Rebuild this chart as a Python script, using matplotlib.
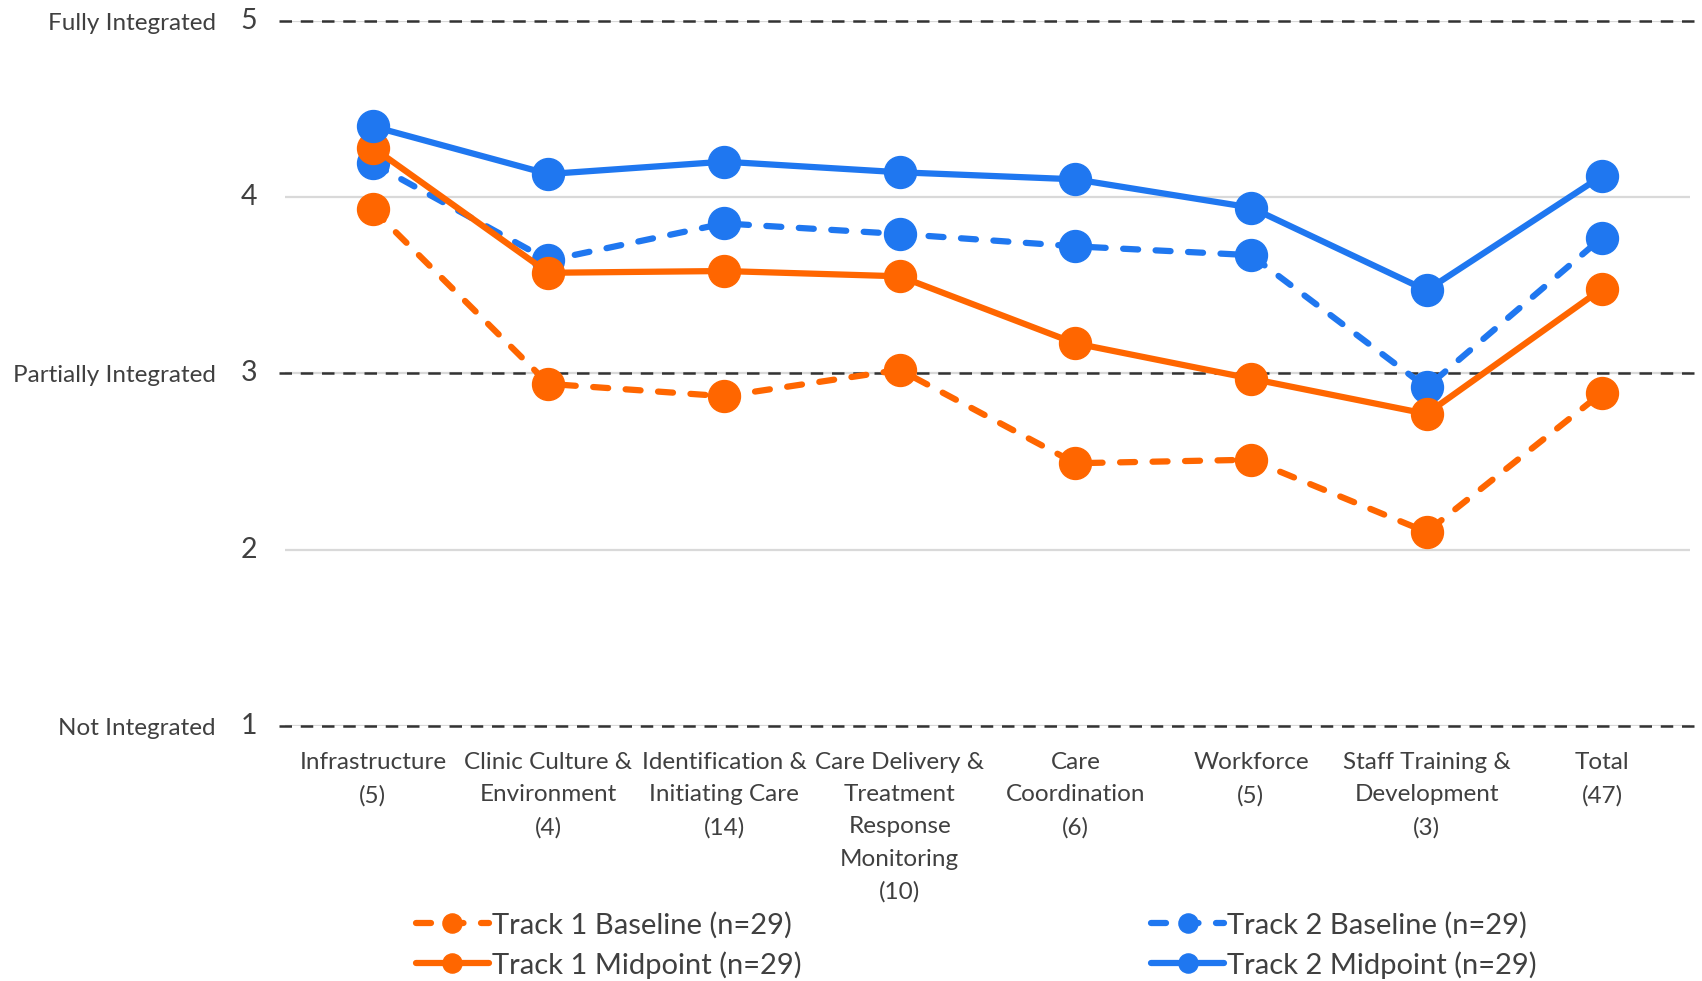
import matplotlib
matplotlib.use('Agg')
import matplotlib.pyplot as plt

plt.rcParams['font.family'] = ['Lato', 'DejaVu Sans']

categories = ['Infrastructure\n(5)', 'Clinic Culture &\nEnvironment\n(4)',
              'Identification &\nInitiating Care\n(14)',
              'Care Delivery &\nTreatment\nResponse\nMonitoring\n(10)',
              'Care\nCoordination\n(6)', 'Workforce\n(5)',
              'Staff Training &\nDevelopment\n(3)', 'Total\n(47)']

t1_base = [3.93, 2.94, 2.87, 3.02, 2.49, 2.51, 2.10, 2.89]
t2_base = [4.19, 3.64, 3.85, 3.79, 3.72, 3.67, 2.92, 3.77]
t1_mid = [4.28, 3.57, 3.58, 3.55, 3.17, 2.97, 2.77, 3.48]
t2_mid = [4.40, 4.13, 4.20, 4.14, 4.10, 3.94, 3.47, 4.12]

y_ticks = [1, 2, 3, 4, 5]
level_labels = {1: 'Not Integrated', 3: 'Partially Integrated', 5: 'Fully Integrated'}

orange = '#FF6600'
blue = '#1F77F0'
text_col = '#404040'

fig = plt.figure(figsize=(17.02, 9.81), dpi=100)
ax = fig.add_axes([285/1702, 1 - 726/981, 1405/1702, 705.4/981])

x = list(range(len(categories)))
ax.set_xlim(-0.5, len(categories) - 0.5)
ax.set_ylim(1, 5)

# grey gridlines
for y in y_ticks:
    ax.axhline(y, color='#d9d9d9', lw=1.6, zorder=0)
# black dashed reference lines
for y in level_labels:
    ax.axhline(y, xmin=-0.004, xmax=1.01, color='#333333', lw=1.8,
               ls=(0, (5, 3.5)), zorder=1, clip_on=False)

dash = (0, (2.4, 2.8))
series = [
    (t1_base, orange, dash, 'Track 1 Baseline (n=29)'),
    (t2_base, blue, dash, 'Track 2 Baseline (n=29)'),
    (t1_mid, orange, '-', 'Track 1 Midpoint (n=29)'),
    (t2_mid, blue, '-', 'Track 2 Midpoint (n=29)'),
]
handles = {}
for vals, col, ls, lab in series:
    h, = ax.plot(x, vals, color=col, lw=4.5, ls=ls, marker='o', markersize=23,
                 dash_capstyle='round', solid_capstyle='round', label=lab,
                 clip_on=False, zorder=3)
    handles[lab] = h

ax.set_xticks(x)
ax.set_xticklabels(categories, fontsize=17.5, color=text_col, linespacing=1.65, va='top')
ax.tick_params(axis='x', length=0, pad=19)
ax.set_yticks([])
for s in ax.spines.values():
    s.set_visible(False)

trans = ax.get_yaxis_transform()
for y in y_ticks:
    ax.text(-36/1405, y, str(y), transform=trans, ha='center', va='center',
            fontsize=20.5, color=text_col)
for y, lab in level_labels.items():
    ax.text(-69/1405, y - 0.015, lab, transform=trans, ha='right', va='center',
            fontsize=17.5, color=text_col)

order = ['Track 1 Baseline (n=29)', 'Track 1 Midpoint (n=29)',
         'Track 2 Baseline (n=29)', 'Track 2 Midpoint (n=29)']
leg = fig.legend([handles[k] for k in order], order, ncol=2, frameon=False,
                 fontsize=21, loc='center left', bbox_to_anchor=(416/1702, 1 - 945/981),
                 borderpad=0, borderaxespad=0,
                 columnspacing=12, handlelength=2.5, handletextpad=0.1,
                 labelspacing=0.43, markerscale=0.6)
for t in leg.get_texts():
    t.set_color(text_col)

fig.savefig('out.png', dpi=100)
